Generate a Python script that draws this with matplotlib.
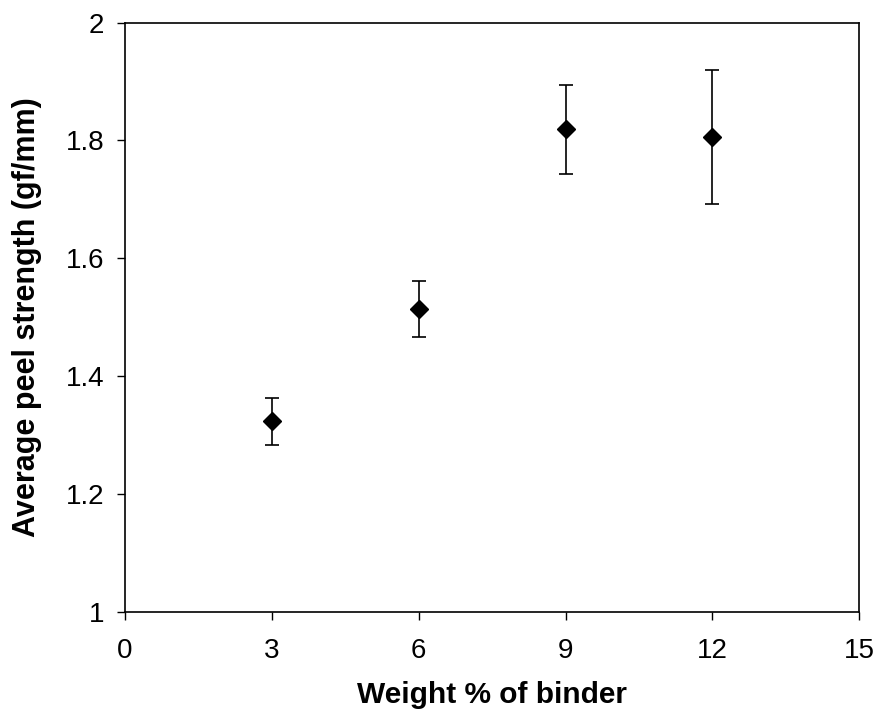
import matplotlib
matplotlib.use("Agg")
import matplotlib.pyplot as plt

plt.rcParams['font.family'] = ['Liberation Sans', 'DejaVu Sans']

binder_wt = [3, 6, 9, 12]
peel_strength = [1.323, 1.514, 1.819, 1.806]
peel_err = [0.040, 0.047, 0.076, 0.113]

x_ticks = [0, 3, 6, 9, 12, 15]
y_ticks = [1, 1.2, 1.4, 1.6, 1.8, 2]
y_labels = ['1', '1.2', '1.4', '1.6', '1.8', '2']

fig = plt.figure(figsize=(8.79, 7.16), dpi=100)
ax = fig.add_axes([0.1422, 0.1457, 0.9776 - 0.1422, 0.9683 - 0.1457])

ax.errorbar(binder_wt, peel_strength, yerr=peel_err, fmt='D', color='black',
            markersize=9, ecolor='black', elinewidth=1.2, capsize=5, capthick=1.2)

ax.set_xlim(0, 15)
ax.set_ylim(1, 2)
ax.set_xticks(x_ticks)
ax.set_yticks(y_ticks)
ax.set_yticklabels(y_labels)
ax.tick_params(direction='out', length=6, width=1, labelsize=20)
ax.tick_params(axis='y', pad=9)
ax.tick_params(axis='x', pad=13)
for s in ax.spines.values():
    s.set_linewidth(1.2)

ax.set_xlabel('Weight % of binder', fontsize=21.5, fontweight='bold', va='center')
ax.set_ylabel('Average peel strength (gf/mm)', fontsize=22, fontweight='bold', va='center')
ax.xaxis.set_label_coords(0.5, -0.142)
ax.yaxis.set_label_coords(-0.133, 0.5)

fig.savefig('out.png', dpi=100)
